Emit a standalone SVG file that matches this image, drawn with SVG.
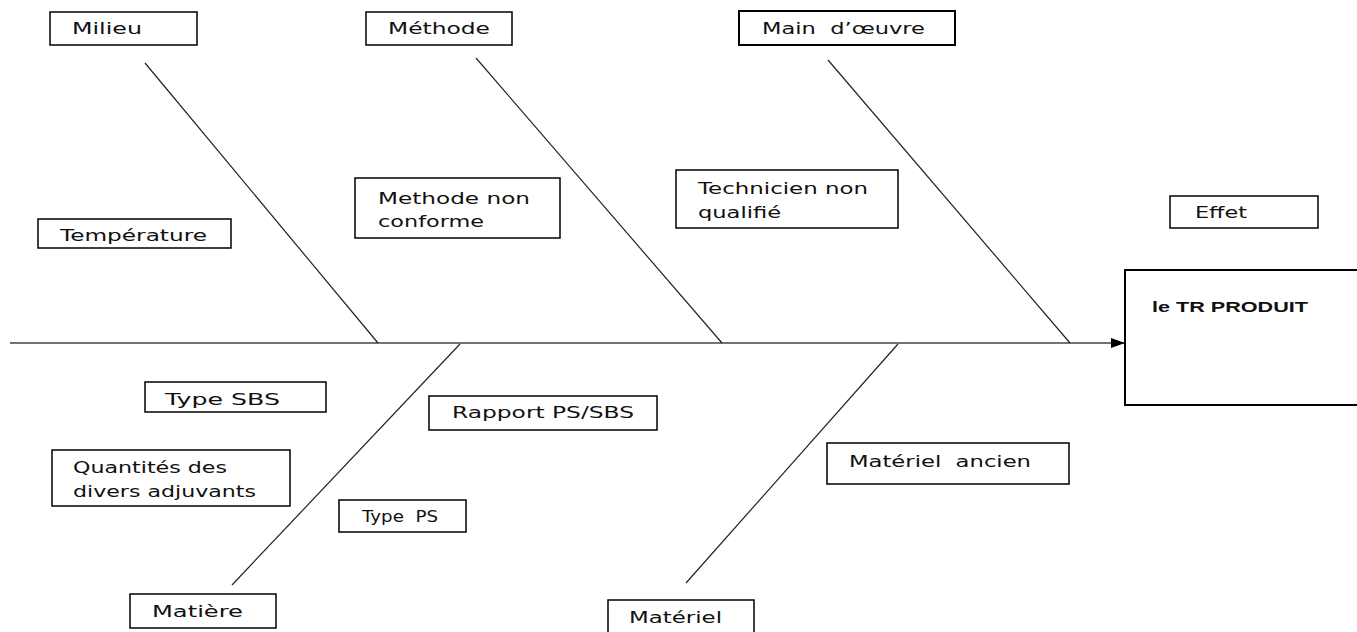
<svg xmlns="http://www.w3.org/2000/svg" width="1357" height="632" viewBox="0 0 1357 632">
<style>
.box{fill:#fff;stroke:#000;stroke-width:1.5}
.t{font-family:"DejaVu Sans","Liberation Sans",sans-serif;font-size:15px;fill:#111;white-space:pre}
.b{font-family:"Liberation Sans",Arial,sans-serif;font-size:15.5px;font-weight:bold;fill:#111}
.ln{stroke:#222;stroke-width:1.2;fill:none}
.sp{stroke:#444;stroke-width:1.6;fill:none}
</style>
<defs>
<marker id="arr" markerWidth="14" markerHeight="10" refX="14" refY="5" orient="auto" markerUnits="userSpaceOnUse">
<path d="M0,0 L14,5 L0,10 Z" fill="#000"/>
</marker>
</defs>
<rect width="1357" height="632" fill="#fff"/>
<g id="connectors">
<line class="sp" x1="10" y1="343" x2="1125" y2="343" marker-end="url(#arr)"/>
<line class="ln" x1="145" y1="63" x2="378" y2="343"/>
<line class="ln" x1="476" y1="58" x2="722" y2="343"/>
<line class="ln" x1="828" y1="60" x2="1070" y2="343"/>
<line class="ln" x1="460" y1="344" x2="232" y2="585"/>
<line class="ln" x1="898" y1="344" x2="686" y2="583"/>
</g>
<g id="milieu"><rect class="box" x="50" y="12" width="147" height="33"/><text class="t" x="72" y="34" textLength="70" lengthAdjust="spacingAndGlyphs">Milieu</text></g>
<g id="methode"><rect class="box" x="366" y="12" width="146" height="33"/><text class="t" x="388" y="34" textLength="102" lengthAdjust="spacingAndGlyphs">Méthode</text></g>
<g id="main-oeuvre"><rect class="box" x="739" y="11" width="216" height="34" style="stroke-width:2"/><text class="t" x="762" y="34" textLength="163" lengthAdjust="spacingAndGlyphs" xml:space="preserve">Main  d’œuvre</text></g>
<g id="temperature"><rect class="box" x="38" y="219" width="193" height="29"/><text class="t" x="60" y="241" textLength="147" lengthAdjust="spacingAndGlyphs">Température</text></g>
<g id="methode-non-conforme"><rect class="box" x="355" y="178" width="205" height="60"/><text class="t" x="378" y="204" textLength="152" lengthAdjust="spacingAndGlyphs">Methode non</text><text class="t" x="378" y="227" textLength="106" lengthAdjust="spacingAndGlyphs">conforme</text></g>
<g id="technicien"><rect class="box" x="676" y="170" width="222" height="58"/><text class="t" x="698" y="194" textLength="170" lengthAdjust="spacingAndGlyphs">Technicien non</text><text class="t" x="698" y="218" textLength="83" lengthAdjust="spacingAndGlyphs">qualifié</text></g>
<g id="effet"><rect class="box" x="1170" y="196" width="148" height="32"/><text class="t" x="1195" y="218" textLength="52" lengthAdjust="spacingAndGlyphs">Effet</text></g>
<g id="produit"><rect class="box" x="1125" y="270" width="240" height="135" style="stroke-width:2"/><text class="b" x="1152" y="312" textLength="156" lengthAdjust="spacingAndGlyphs">le TR PRODUIT</text></g>
<g id="type-sbs"><rect class="box" x="145" y="382" width="181" height="30"/><text class="t" x="165" y="405" textLength="115" lengthAdjust="spacingAndGlyphs">Type SBS</text></g>
<g id="rapport"><rect class="box" x="429" y="396" width="228" height="34"/><text class="t" x="452" y="418" textLength="182" lengthAdjust="spacingAndGlyphs">Rapport PS/SBS</text></g>
<g id="quantites"><rect class="box" x="52" y="450" width="238" height="56"/><text class="t" x="73" y="473" textLength="154" lengthAdjust="spacingAndGlyphs">Quantités des</text><text class="t" x="73" y="497" textLength="183" lengthAdjust="spacingAndGlyphs">divers adjuvants</text></g>
<g id="type-ps"><rect class="box" x="339" y="500" width="127" height="32"/><text class="t" x="362" y="522" textLength="76" lengthAdjust="spacingAndGlyphs" xml:space="preserve">Type  PS</text></g>
<g id="matiere"><rect class="box" x="130" y="594" width="146" height="34"/><text class="t" x="152" y="617" textLength="91" lengthAdjust="spacingAndGlyphs">Matière</text></g>
<g id="materiel-ancien"><rect class="box" x="827" y="443" width="242" height="41"/><text class="t" x="849" y="467" textLength="182" lengthAdjust="spacingAndGlyphs" xml:space="preserve">Matériel  ancien</text></g>
<g id="materiel"><rect class="box" x="608" y="600" width="146" height="36"/><text class="t" x="629" y="623" textLength="93" lengthAdjust="spacingAndGlyphs">Matériel</text></g>
</svg>
